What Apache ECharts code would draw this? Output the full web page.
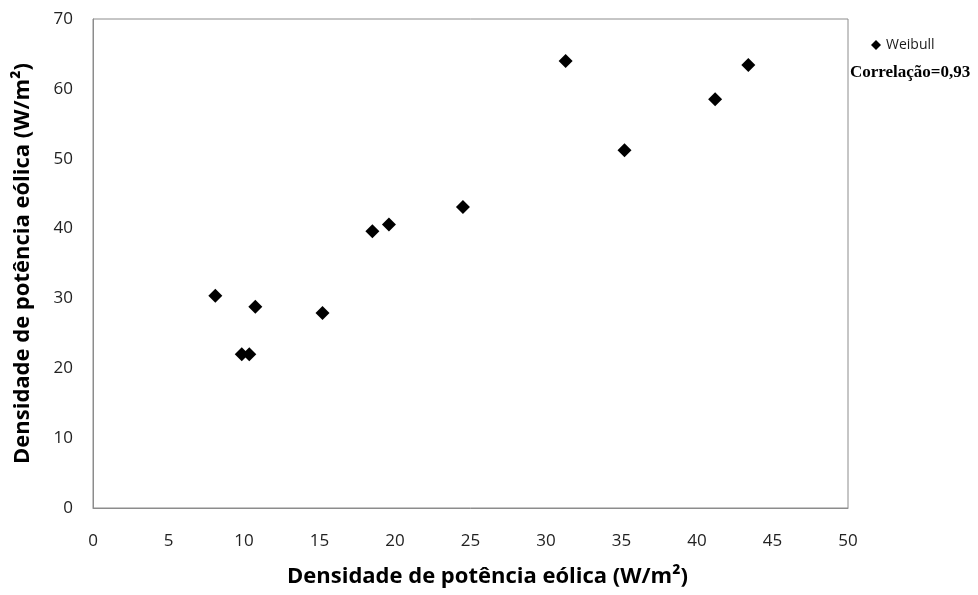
<!DOCTYPE html>
<html>
<head>
<meta charset="utf-8">
<script src="https://cdn.jsdelivr.net/npm/echarts@6/dist/echarts.min.js"></script>
<style>
  html, body { margin: 0; padding: 0; background: #fff; }
  #chart { width: 978px; height: 595px; }
</style>
</head>
<body>
<div id="chart"></div>
<script>
// Weibull estimate vs observed wind power density (W/m²)
const xValues = [8.1, 9.85, 10.35, 10.75, 15.2, 18.5, 19.6, 24.5, 31.3, 35.2, 41.2, 43.4]
const yValues = [30.4, 22.0, 22.0, 28.8, 27.9, 39.6, 40.6, 43.1, 64.0, 51.2, 58.5, 63.4]
const seriesName = 'Weibull'
const axisTitle = 'Densidade de potência eólica (W/m²)'
const correlationText = 'Correlação=0,93'

const points = xValues.map((x, i) => [x, yValues[i]])

const FONT = '"Open Sans", "Noto Sans", sans-serif'
const AXIS_GREY = '#8c8c8c'

const chart = echarts.init(document.getElementById('chart'), null, { renderer: 'canvas' })

chart.setOption({
  backgroundColor: '#ffffff',
  animation: false,
  textStyle: { fontFamily: FONT },
  grid: { left: 93, right: 130, top: 19, bottom: 87, containLabel: false },
  legend: {
    data: [{ name: seriesName, icon: 'diamond' }],
    left: 866,
    top: 33,
    itemWidth: 10,
    itemHeight: 10,
    itemGap: 4,
    textStyle: { fontFamily: FONT, fontSize: 14, color: '#1a1a1a' },
  },
  xAxis: {
    type: 'value',
    min: 0,
    max: 50,
    interval: 5,
    name: axisTitle,
    nameLocation: 'middle',
    nameGap: 58,
    nameTextStyle: {
      fontFamily: FONT, fontSize: 22, fontWeight: 'bold', color: '#000',
      padding: [0, 0, 0, 34], // title sits a bit right of the plot centre
    },
    axisLine: { show: true, lineStyle: { color: AXIS_GREY, width: 1 } },
    axisTick: { show: false },
    axisLabel: { color: '#222', fontSize: 17, margin: 25 },
    splitLine: { show: false },
  },
  yAxis: {
    type: 'value',
    min: 0,
    max: 70,
    interval: 10,
    name: axisTitle,
    nameLocation: 'middle',
    nameGap: 59,
    nameTextStyle: { fontFamily: FONT, fontSize: 22, fontWeight: 'bold', color: '#000' },
    axisLine: { show: true, lineStyle: { color: AXIS_GREY, width: 1 } },
    axisTick: { show: false },
    axisLabel: { color: '#222', fontSize: 17, margin: 20 },
    splitLine: { show: false },
  },
  graphic: [
    {
      type: 'rect',
      shape: { x: 93, y: 19, width: 755, height: 489 },
      style: { fill: 'none', stroke: AXIS_GREY, lineWidth: 1 },
      silent: true,
    },
    {
      type: 'text',
      left: 850,
      top: 64,
      style: {
        text: correlationText,
        font: 'bold 17px "Liberation Serif", "DejaVu Serif", serif',
        fill: '#000',
      },
    },
  ],
  series: [
    {
      name: seriesName,
      type: 'scatter',
      symbol: 'diamond',
      symbolSize: 14,
      itemStyle: { color: '#000000', opacity: 1 },
      data: points,
    },
  ],
})
</script>
</body>
</html>
